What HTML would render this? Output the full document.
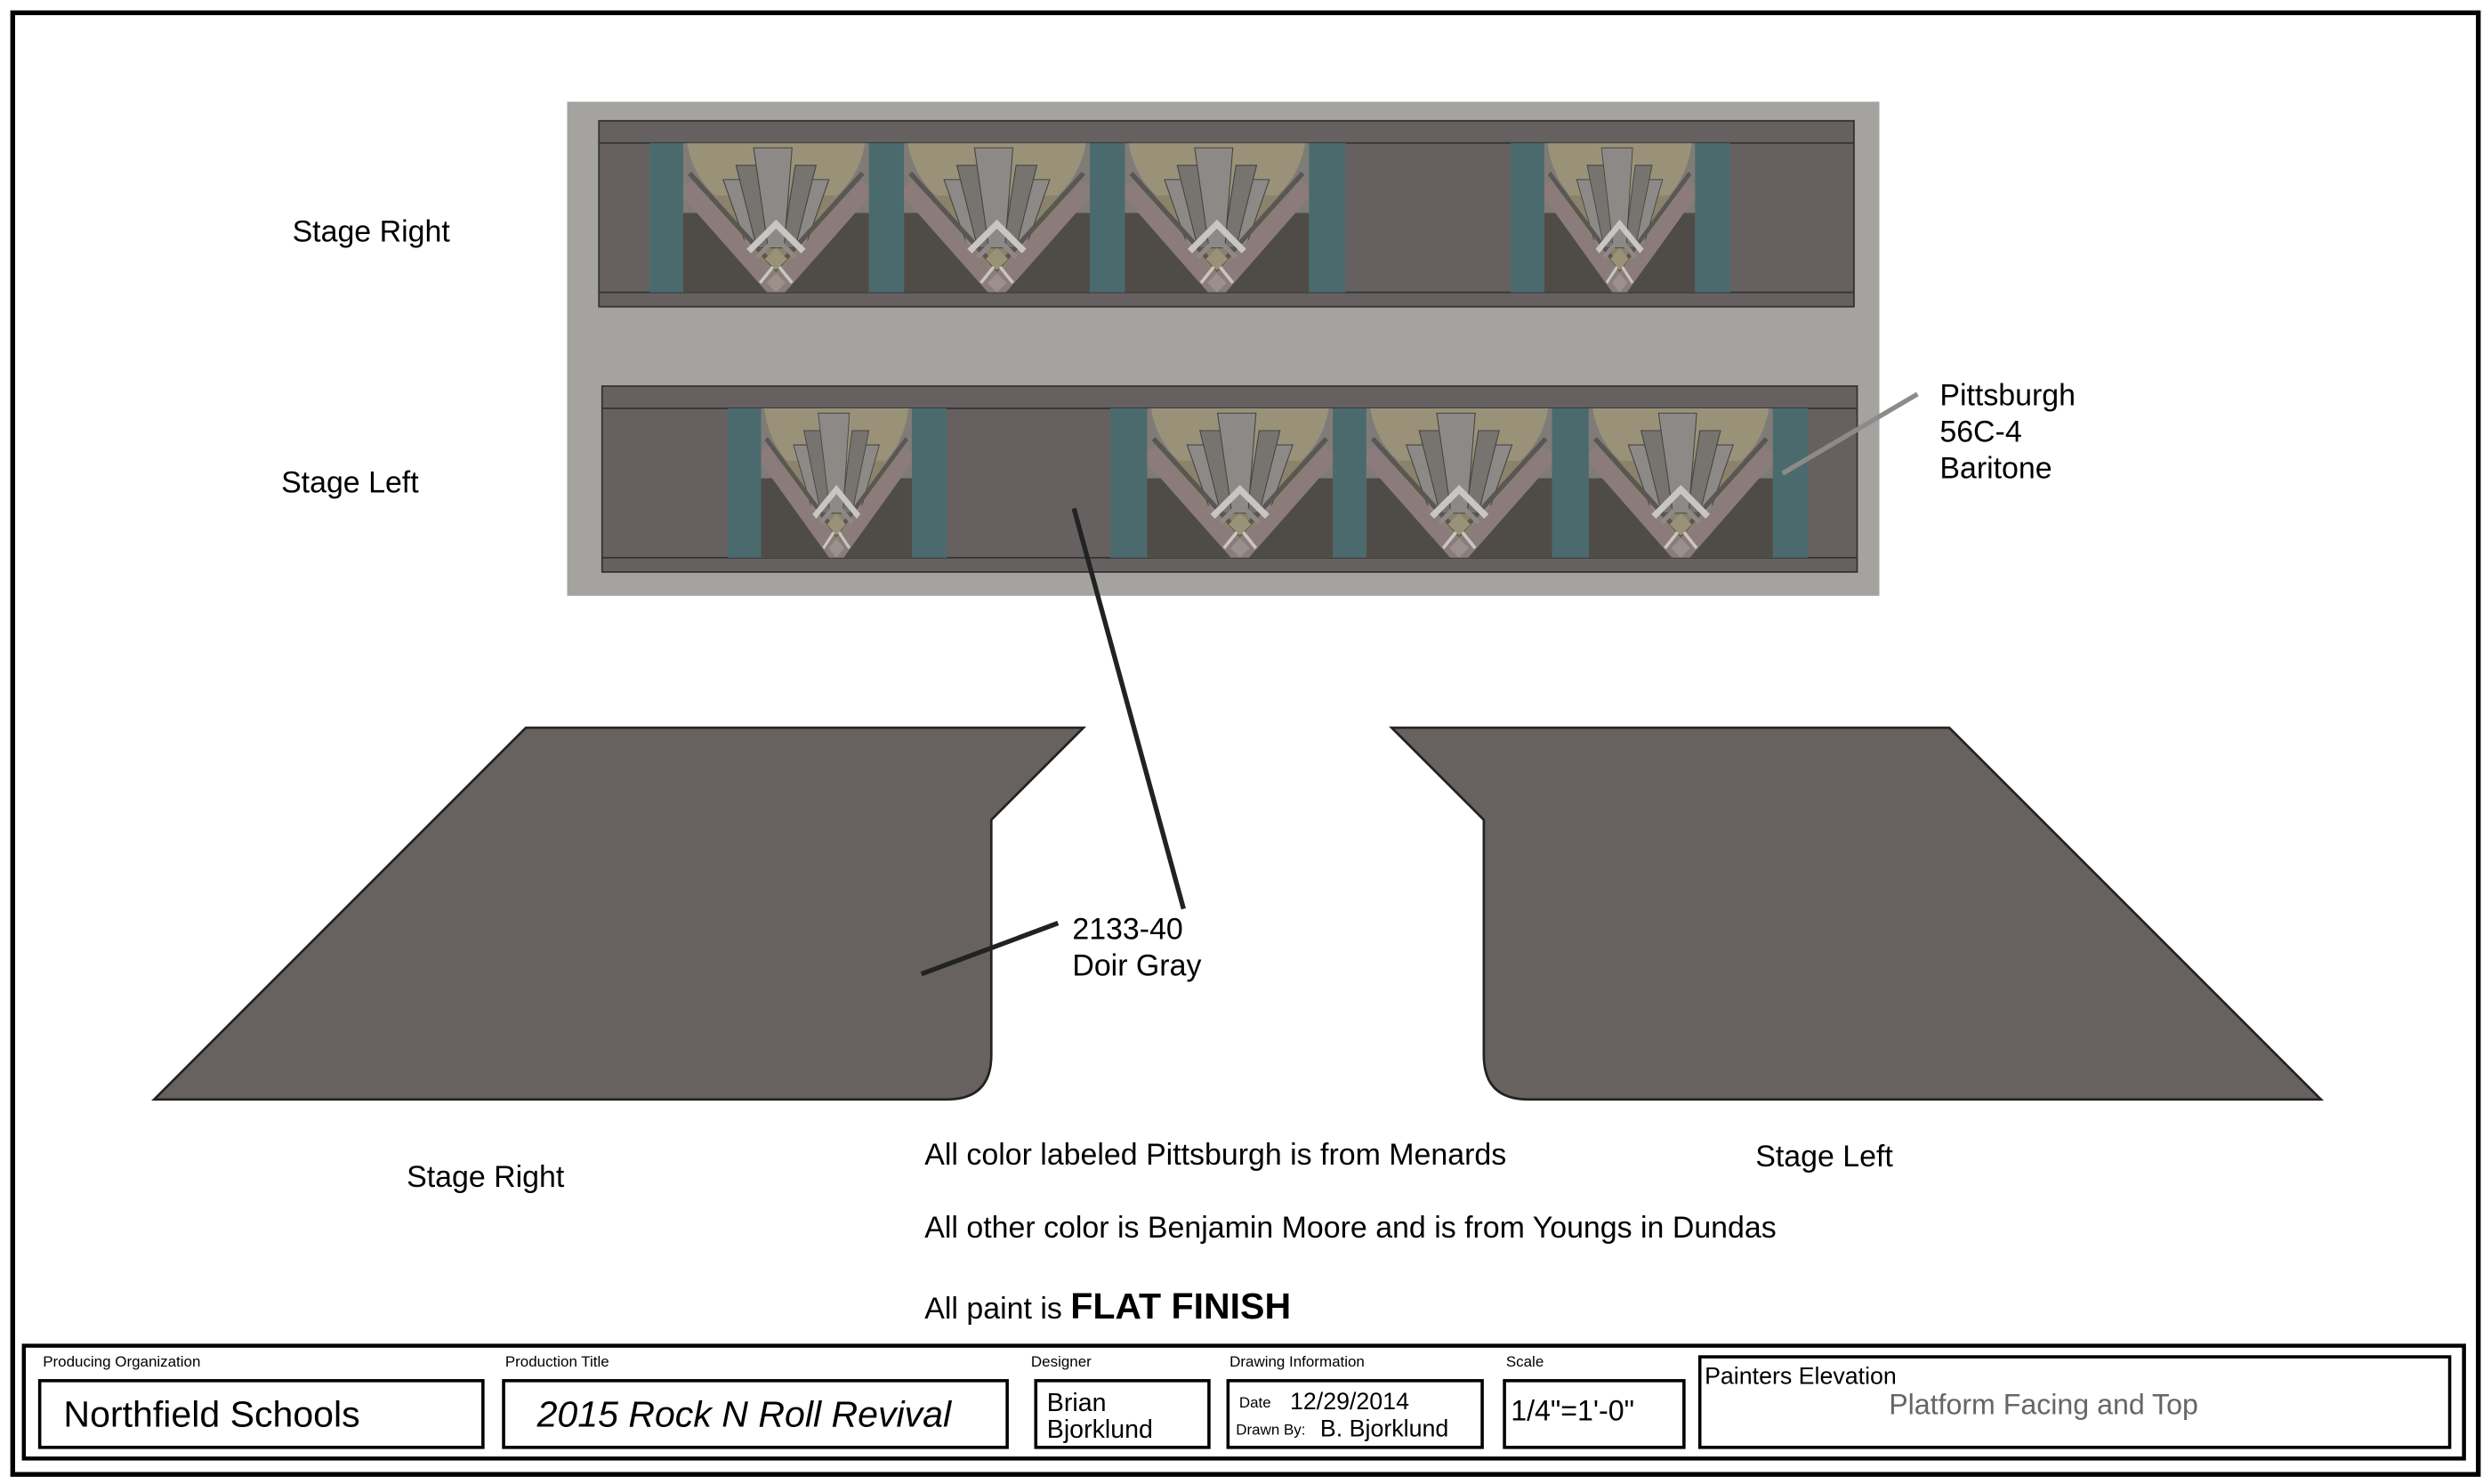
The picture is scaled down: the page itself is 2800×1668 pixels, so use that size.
<!DOCTYPE html>
<html><head><meta charset="utf-8"><style>html,body{margin:0;padding:0;background:#fff}svg{display:block}text{font-family:"Liberation Sans",sans-serif}</style></head><body>
<svg width="2800" height="1668" viewBox="0 0 1568 934" xmlns="http://www.w3.org/2000/svg">
<defs>
<clipPath id="c"><rect x="0" y="0" width="116" height="94"/></clipPath>
<symbol id="m" viewBox="0 0 116 94" preserveAspectRatio="none">
<rect x="0" y="0" width="116" height="94" fill="#7f7c78"/>
<rect x="0" y="44" width="116" height="50" fill="#4f4c48"/>
<g clip-path="url(#c)">
<circle cx="58" cy="-8" r="56" fill="#9a9278"/>
<polygon points="14,33 102,33 58,88" fill="#8a826a"/>
<polygon points="25,23 38,23 48,66 40,66" fill="#8d8986" stroke="#444" stroke-width=".6"/>
<polygon points="78,23 91,23 76,66 68,66" fill="#8d8986" stroke="#444" stroke-width=".6"/>
<polygon points="33,14 46,14 54,66 46,66" fill="#77736f" stroke="#444" stroke-width=".6"/>
<polygon points="70,14 83,14 70,66 62,66" fill="#77736f" stroke="#444" stroke-width=".6"/>
<polygon points="44,3 68,3 63,66 53,66" fill="#8d8986" stroke="#444" stroke-width=".6"/>
<polyline points="1,27 58,92 115,27" fill="none" stroke="#8c7b7b" stroke-width="11"/>
<polyline points="4,19 58,79 112,19" fill="none" stroke="#5a5653" stroke-width="3"/>
<polyline points="41,68 58,51 75,68" fill="none" stroke="#c8c6c2" stroke-width="4"/>
<polyline points="46,72 58,60 70,72" fill="none" stroke="#8d8986" stroke-width="3"/>
<polygon points="58,66 65,73 58,80 51,73" fill="#9a9278"/>
<polyline points="48,88 56,78" stroke="#c8c6c2" stroke-width="2"/>
<polyline points="68,88 60,78" stroke="#c8c6c2" stroke-width="2"/>
<polygon points="58,82 64,88 58,94 52,88" fill="#9a918c"/>
</g>
</symbol>
</defs>
<rect x="8" y="8" width="1552" height="920" fill="#fff" stroke="#000" stroke-width="3"/>
<rect x="357" y="64" width="826" height="311" fill="#a4a39f"/>
<rect x="377" y="76" width="790" height="117" fill="#666160" stroke="#333" stroke-width="1"/>
<line x1="377" y1="90" x2="1167" y2="90" stroke="#333"/><line x1="377" y1="184" x2="1167" y2="184" stroke="#333"/>
<g fill="#4b6a6d">
<rect x="409" y="90" width="21" height="94"/><rect x="547" y="90" width="22" height="94"/><rect x="686" y="90" width="22" height="94"/><rect x="824" y="90" width="23" height="94"/><rect x="951" y="90" width="21" height="94"/><rect x="1067" y="90" width="22" height="94"/>
</g>
<use href="#m" x="430" y="90" width="117" height="94"/>
<use href="#m" x="569" y="90" width="117" height="94"/>
<use href="#m" x="708" y="90" width="116" height="94"/>
<use href="#m" x="972" y="90" width="95" height="94"/>
<rect x="379" y="243" width="790" height="117" fill="#666160" stroke="#333" stroke-width="1"/>
<line x1="379" y1="257" x2="1169" y2="257" stroke="#333"/><line x1="379" y1="351" x2="1169" y2="351" stroke="#333"/>
<g fill="#4b6a6d">
<rect x="458" y="257" width="21" height="94"/><rect x="574" y="257" width="22" height="94"/><rect x="699" y="257" width="23" height="94"/><rect x="839" y="257" width="21" height="94"/><rect x="977" y="257" width="23" height="94"/><rect x="1116" y="257" width="22" height="94"/>
</g>
<use href="#m" x="479" y="257" width="95" height="94"/>
<use href="#m" x="722" y="257" width="117" height="94"/>
<use href="#m" x="860" y="257" width="117" height="94"/>
<use href="#m" x="1000" y="257" width="116" height="94"/>
<path d="M97,692 L331,458 L682,458 L624,516 L624,664 Q624,692 596,692 Z" fill="#67615f" stroke="#222" stroke-width="1.5"/>
<path d="M1461,692 L1227,458 L876,458 L934,516 L934,664 Q934,692 962,692 Z" fill="#67615f" stroke="#222" stroke-width="1.5"/>
<line x1="676" y1="320" x2="745" y2="572" stroke="#222" stroke-width="3"/>
<line x1="580" y1="613" x2="666" y2="581" stroke="#222" stroke-width="3"/>
<line x1="1122" y1="298" x2="1207" y2="248" stroke="#8e8a8a" stroke-width="3"/>
<g font-size="19" fill="#000">
<text x="184" y="152">Stage Right</text>
<text x="177" y="310">Stage Left</text>
<text x="1221" y="255">Pittsburgh</text><text x="1221" y="278">56C-4</text><text x="1221" y="301">Baritone</text>
<text x="675" y="591">2133-40</text><text x="675" y="614">Doir Gray</text>
<text x="256" y="747">Stage Right</text>
<text x="1105" y="734">Stage Left</text>
<text x="582" y="733">All color labeled Pittsburgh is from Menards</text>
<text x="582" y="779">All other color is Benjamin Moore and is from Youngs in Dundas</text>
<text x="582" y="830">All paint is <tspan font-weight="bold" font-size="23">FLAT FINISH</tspan></text>
</g>
<rect x="15" y="847" width="1536" height="71" fill="none" stroke="#000" stroke-width="2.5"/>
<g fill="none" stroke="#000" stroke-width="2">
<rect x="25" y="869" width="279" height="42"/><rect x="317" y="869" width="317" height="42"/><rect x="652" y="869" width="109" height="42"/><rect x="773" y="869" width="160" height="42"/><rect x="947" y="869" width="113" height="42"/><rect x="1070" y="854" width="472" height="57"/>
</g>
<g font-size="9.5" fill="#000">
<text x="27" y="860">Producing Organization</text><text x="318" y="860">Production Title</text><text x="649" y="860">Designer</text><text x="774" y="860">Drawing Information</text><text x="948" y="860">Scale</text>
<text x="780" y="886">Date</text><text x="778" y="903">Drawn By:</text>
</g>
<text x="40" y="898" font-size="23">Northfield Schools</text>
<text x="338" y="898" font-size="23" font-style="italic">2015 Rock N Roll Revival</text>
<text x="659" y="888" font-size="16">Brian</text><text x="659" y="905" font-size="16">Bjorklund</text>
<text x="812" y="887" font-size="15">12/29/2014</text><text x="831" y="904" font-size="15">B. Bjorklund</text>
<text x="951" y="894" font-size="18">1/4"=1'-0"</text>
<text x="1073" y="871" font-size="15">Painters Elevation</text>
<text x="1189" y="890" font-size="18" fill="#666">Platform Facing and Top</text>
</svg>
</body></html>
